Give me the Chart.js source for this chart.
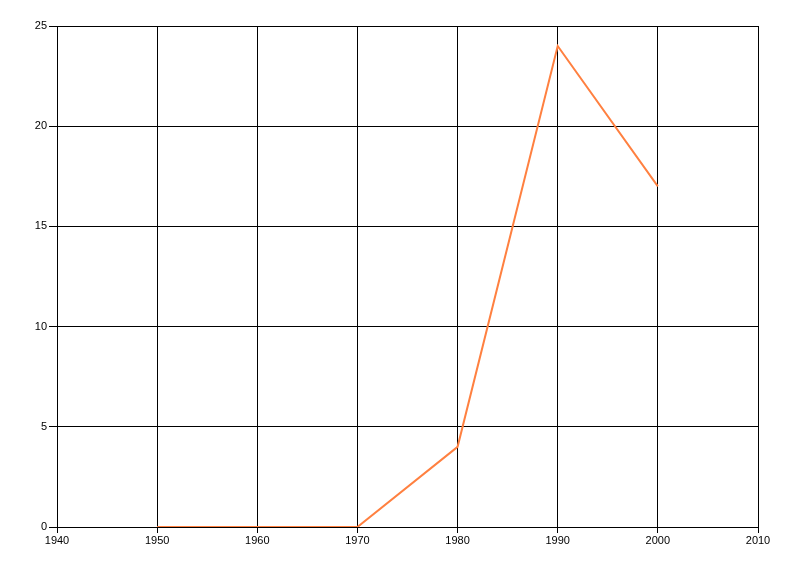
<!DOCTYPE html>
<html>
<head>
<meta charset="utf-8">
<script src="https://cdn.jsdelivr.net/npm/chart.js@4/dist/chart.umd.min.js"></script>
<style>
  html, body { margin: 0; padding: 0; background: #fff; }
  #wrap { width: 800px; height: 576px; }
</style>
</head>
<body>
<div id="wrap"><canvas id="lineChart" width="800" height="576"></canvas></div>
<script>
// data
const years = [1950, 1960, 1970, 1980, 1990, 2000];
const values = [0, 0, 0, 4, 24, 17];
const xTicks = [1940, 1950, 1960, 1970, 1980, 1990, 2000, 2010];
const yTicks = [0, 5, 10, 15, 20, 25];

const points = years.map((y, i) => ({ x: y, y: values[i] }));

Chart.defaults.font.family = "'Liberation Sans', Arial, sans-serif";
Chart.defaults.font.size = 11;
Chart.defaults.color = '#000';

const ctx = document.getElementById('lineChart').getContext('2d');
new Chart(ctx, {
  type: 'line',
  data: {
    datasets: [{
      data: points,
      borderColor: 'rgb(255,128,64)',
      borderWidth: 2,
      pointRadius: 0,
      tension: 0,
      fill: false
    }]
  },
  options: {
    responsive: false,
    animation: false,
    layout: { padding: { top: 26, right: 42, left: 0, bottom: 0 } },
    plugins: { legend: { display: false }, tooltip: { enabled: false } },
    scales: {
      x: {
        type: 'linear',
        min: xTicks[0],
        max: xTicks[xTicks.length - 1],
        afterBuildTicks: (axis) => { axis.ticks = xTicks.map(v => ({ value: v })); },
        afterFit: (axis) => { axis.height = 49; },
        grid: { color: '#000', lineWidth: 1, tickLength: 6 },
        border: { color: '#000', width: 1 },
        ticks: {
          padding: 1,
          maxRotation: 0,
          callback: (v) => String(v)
        }
      },
      y: {
        min: yTicks[0],
        max: yTicks[yTicks.length - 1],
        afterBuildTicks: (axis) => { axis.ticks = yTicks.map(v => ({ value: v })); },
        afterFit: (axis) => { axis.width = 57; },
        grid: { color: '#000', lineWidth: 1, tickLength: 8 },
        border: { color: '#000', width: 1 },
        ticks: { padding: 2 }
      }
    }
  },
  plugins: [{
    id: 'frame',
    afterDraw(chart) {
      const a = chart.chartArea, c = chart.ctx;
      c.save();
      c.strokeStyle = '#000';
      c.lineWidth = 1;
      c.strokeRect(Math.round(a.left) + 0.5, Math.round(a.top) + 0.5, Math.round(a.right - a.left), Math.round(a.bottom - a.top));
      c.restore();
    }
  }]
});
</script>
</body>
</html>
